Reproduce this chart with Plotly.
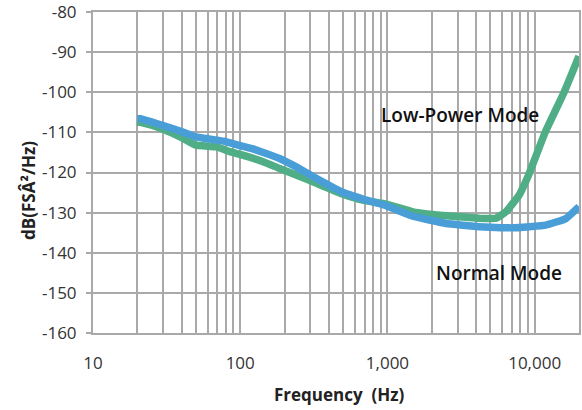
import plotly.graph_objects as go
import numpy as np

# Normal Mode (blue)
normal_freq = [20, 21, 25, 30, 40, 50, 77, 100, 122, 185, 240, 330, 500, 680, 980, 1490, 2500, 4200, 7100, 11900, 16250, 20000]
normal_db = [-106.6, -106.6, -107.4, -108.3, -109.8, -111.1, -112.2, -113.3, -114.1, -116.5, -118.6, -121.5, -125.0, -126.6, -128.3, -130.9, -132.7, -133.5, -133.8, -133.1, -131.5, -128.5]

# Low-Power Mode (green)
low_freq = [20, 21, 25, 30, 40, 50, 69, 85, 100, 143, 185, 240, 330, 500, 680, 980, 1490, 2500, 4200, 5460, 6380, 7850, 9000, 11780, 15840, 20000]
low_db = [-107.4, -107.5, -108.2, -109.2, -111.3, -113.2, -113.6, -114.8, -115.5, -117.3, -119.0, -120.6, -122.7, -125.4, -126.9, -127.9, -129.8, -130.8, -131.4, -131.4, -129.8, -125.6, -121.0, -110.0, -100.0, -91.0]

x_tickvals = [10, 100, 1000, 10000]
x_ticktext = ["10", "100", "1,000", "10,000"]
y_tickvals = [-160, -150, -140, -130, -120, -110, -100, -90, -80]
y_ticktext = ["-160", "-150", "-140", "-130", "-120", "-110", "-100", "-90", "-80"]

GRID = "#a9a9a9"
FONT = "Open Sans"

fig = go.Figure()
fig.add_trace(go.Scatter(x=low_freq, y=low_db, mode="lines",
                         line=dict(color="#4fae86", width=7.5, shape="spline", smoothing=0.3),
                         name="Low-Power Mode", showlegend=False))
fig.add_trace(go.Scatter(x=normal_freq, y=normal_db, mode="lines",
                         line=dict(color="#4a9ed8", width=7.5, shape="spline", smoothing=0.3),
                         name="Normal Mode", showlegend=False))

fig.update_layout(
    width=582, height=410,
    margin=dict(l=93, r=3, t=12, b=77, autoexpand=False),
    paper_bgcolor="white", plot_bgcolor="white",
    font=dict(family=FONT, color="#222"),
    xaxis=dict(type="log", range=[1, np.log10(20000)], automargin=False,
               tickvals=x_tickvals, ticktext=x_ticktext,
               tickfont=dict(size=17, color="#333"),
               ticks="outside", ticklen=14, tickcolor="rgba(0,0,0,0)",
               ticklabeloverflow="allow",
               showgrid=True, gridcolor=GRID, gridwidth=2,
               minor=dict(showgrid=True, gridcolor=GRID, gridwidth=2, dtick="D1", ticks=""),
               showline=True, linecolor=GRID, linewidth=2, mirror=True,
               zeroline=False),
    yaxis=dict(range=[-160, -80], tickvals=y_tickvals, ticktext=y_ticktext, automargin=False,
               tickfont=dict(size=17, color="#333"),
               ticks="outside", ticklen=5, tickcolor=GRID, tickwidth=2,
               ticklabelstandoff=6, ticklabeloverflow="allow",
               showgrid=True, gridcolor=GRID, gridwidth=2,
               showline=True, linecolor=GRID, linewidth=2, mirror=True,
               zeroline=False),
    annotations=[
        dict(text="<b>dB(FSÂ²/Hz)</b>", xref="paper", yref="paper", x=-0.162, y=0.445,
             textangle=-90, showarrow=False, font=dict(size=17, color="#222")),
        dict(text="<b>Frequency  (Hz)</b>", xref="paper", yref="paper", x=0.508, y=-0.193,
             yanchor="middle", showarrow=False, font=dict(size=17, color="#222")),
        dict(text="Low-Power Mode", x=np.log10(3130), y=-105.7, xref="x", yref="y",
             showarrow=False, font=dict(size=19, color="#111", weight=600)),
        dict(text="Normal Mode", x=np.log10(5740), y=-145.1, xref="x", yref="y",
             showarrow=False, font=dict(size=19, color="#111", weight=600)),
    ],
)

fig.write_html("out.html", config={"displayModeBar": False},
               post_script="document.body.style.margin='0';document.body.style.overflow='hidden';")
